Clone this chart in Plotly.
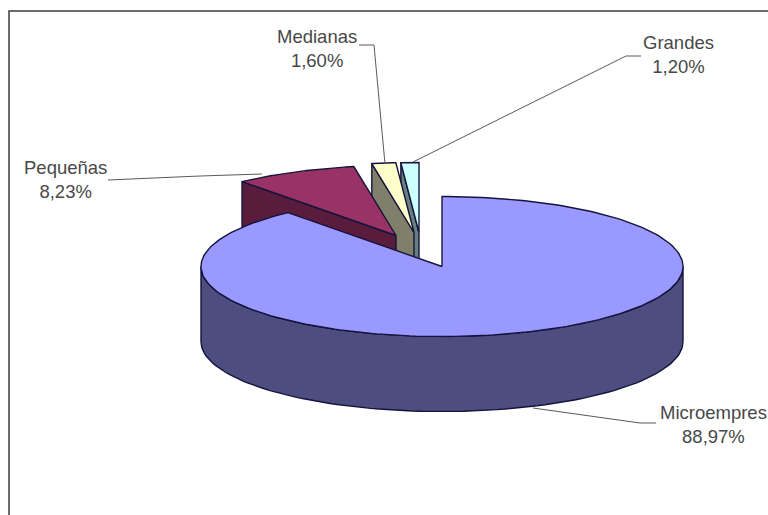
import numpy as np
import plotly.graph_objects as go

categories = ["Microempres", "Pequeñas", "Medianas", "Grandes"]
values = [88.97, 8.23, 1.60, 1.20]
value_labels = ["88,97%", "8,23%", "1,60%", "1,20%"]

top_colors = ["#9999FF", "#993366", "#FFFFCC", "#CCFFFF"]
side_colors = ["#4D4D80", "#5A1C3C", "#80806A", "#668080"]
edge = "#14143C"

# Pie geometry in pixels of the 768x515 canvas
CX, CY, RX, RY, DEPTH = 442, 266.5, 241, 70, 75
OFFSETS = [(0, 0), (-46, -31), (-28, -34), (-23, -34)]


def point(theta_deg, ox=0, oy=0, drop=0):
    t = np.radians(theta_deg)
    return CX + ox + RX * np.sin(t), CY + oy - RY * np.cos(t) + drop


def arc(a0, a1, ox=0, oy=0, drop=0, n=90):
    return point(np.linspace(a0, a1, n), ox, oy, drop)


fig = go.Figure()


def poly(xs, ys, fill):
    fig.add_trace(go.Scatter(
        x=list(xs), y=list(ys), mode="lines", fill="toself", fillcolor=fill,
        line=dict(color=edge, width=1.4), hoverinfo="skip", showlegend=False,
    ))


angles = np.concatenate([[0], np.cumsum(values)]) * 3.6

# Exploded slices, painted back to front, main slice last
for i in [3, 2, 1]:
    a0, a1 = angles[i], angles[i + 1]
    ox, oy = OFFSETS[i]
    ax, ay = CX + ox, CY + oy
    ex, ey = point(a0, ox, oy)
    poly([ax, ex, ex, ax, ax], [ay, ey, ey + DEPTH, ay + DEPTH, ay], side_colors[i])
    xs, ys = arc(a0, a1, ox, oy)
    poly(np.r_[ax, xs, ax], np.r_[ay, ys, ay], top_colors[i])

# Main slice: front wall, then top
fx0, fy0 = arc(90, 270)
fx1, fy1 = arc(270, 90, drop=DEPTH)
poly(np.r_[fx0, fx1, fx0[0]], np.r_[fy0, fy1, fy0[0]], side_colors[0])
xs, ys = arc(angles[0], angles[1], n=240)
poly(np.r_[CX, xs, CX], np.r_[CY, ys, CY], top_colors[0])

leaders = [
    [(533, 408), (640, 423), (656, 423)],
    [(108, 180), (200, 176), (262, 174)],
    [(359, 45), (374, 45), (385, 164)],
    [(641, 56), (626, 56), (413, 162)],
]
label_pos = [(713, 424.5), (65, 179.5), (317, 48), (678, 54.5)]

shapes = [dict(type="rect", xref="x", yref="y", x0=9, y0=11, x1=790, y1=540,
               line=dict(color="#3C3C3C", width=1.5), layer="below")]
for pts in leaders:
    path = "M " + " L ".join(f"{x},{y}" for x, y in pts)
    shapes.append(dict(type="path", path=path, xref="x", yref="y",
                       line=dict(color="#5A5A5A", width=1)))

annotations = [
    dict(x=x, y=y, xref="x", yref="y", showarrow=False, xanchor="center", yanchor="middle",
         text=f"{c}<br>{v}", align="center",
         font=dict(family="Liberation Sans", size=18.5, color="#484848"))
    for (x, y), c, v in zip(label_pos, categories, value_labels)
]

fig.update_layout(
    width=768, height=515, margin=dict(l=0, r=0, t=0, b=0),
    paper_bgcolor="white", plot_bgcolor="white",
    xaxis=dict(visible=False, range=[0, 768], fixedrange=True),
    yaxis=dict(visible=False, range=[515, 0], fixedrange=True),
    shapes=shapes, annotations=annotations, showlegend=False,
)
fig.write_html(
    "out.html",
    config=dict(displayModeBar=False),
    post_script="document.body.style.margin='0';document.body.style.overflow='hidden';",
)
